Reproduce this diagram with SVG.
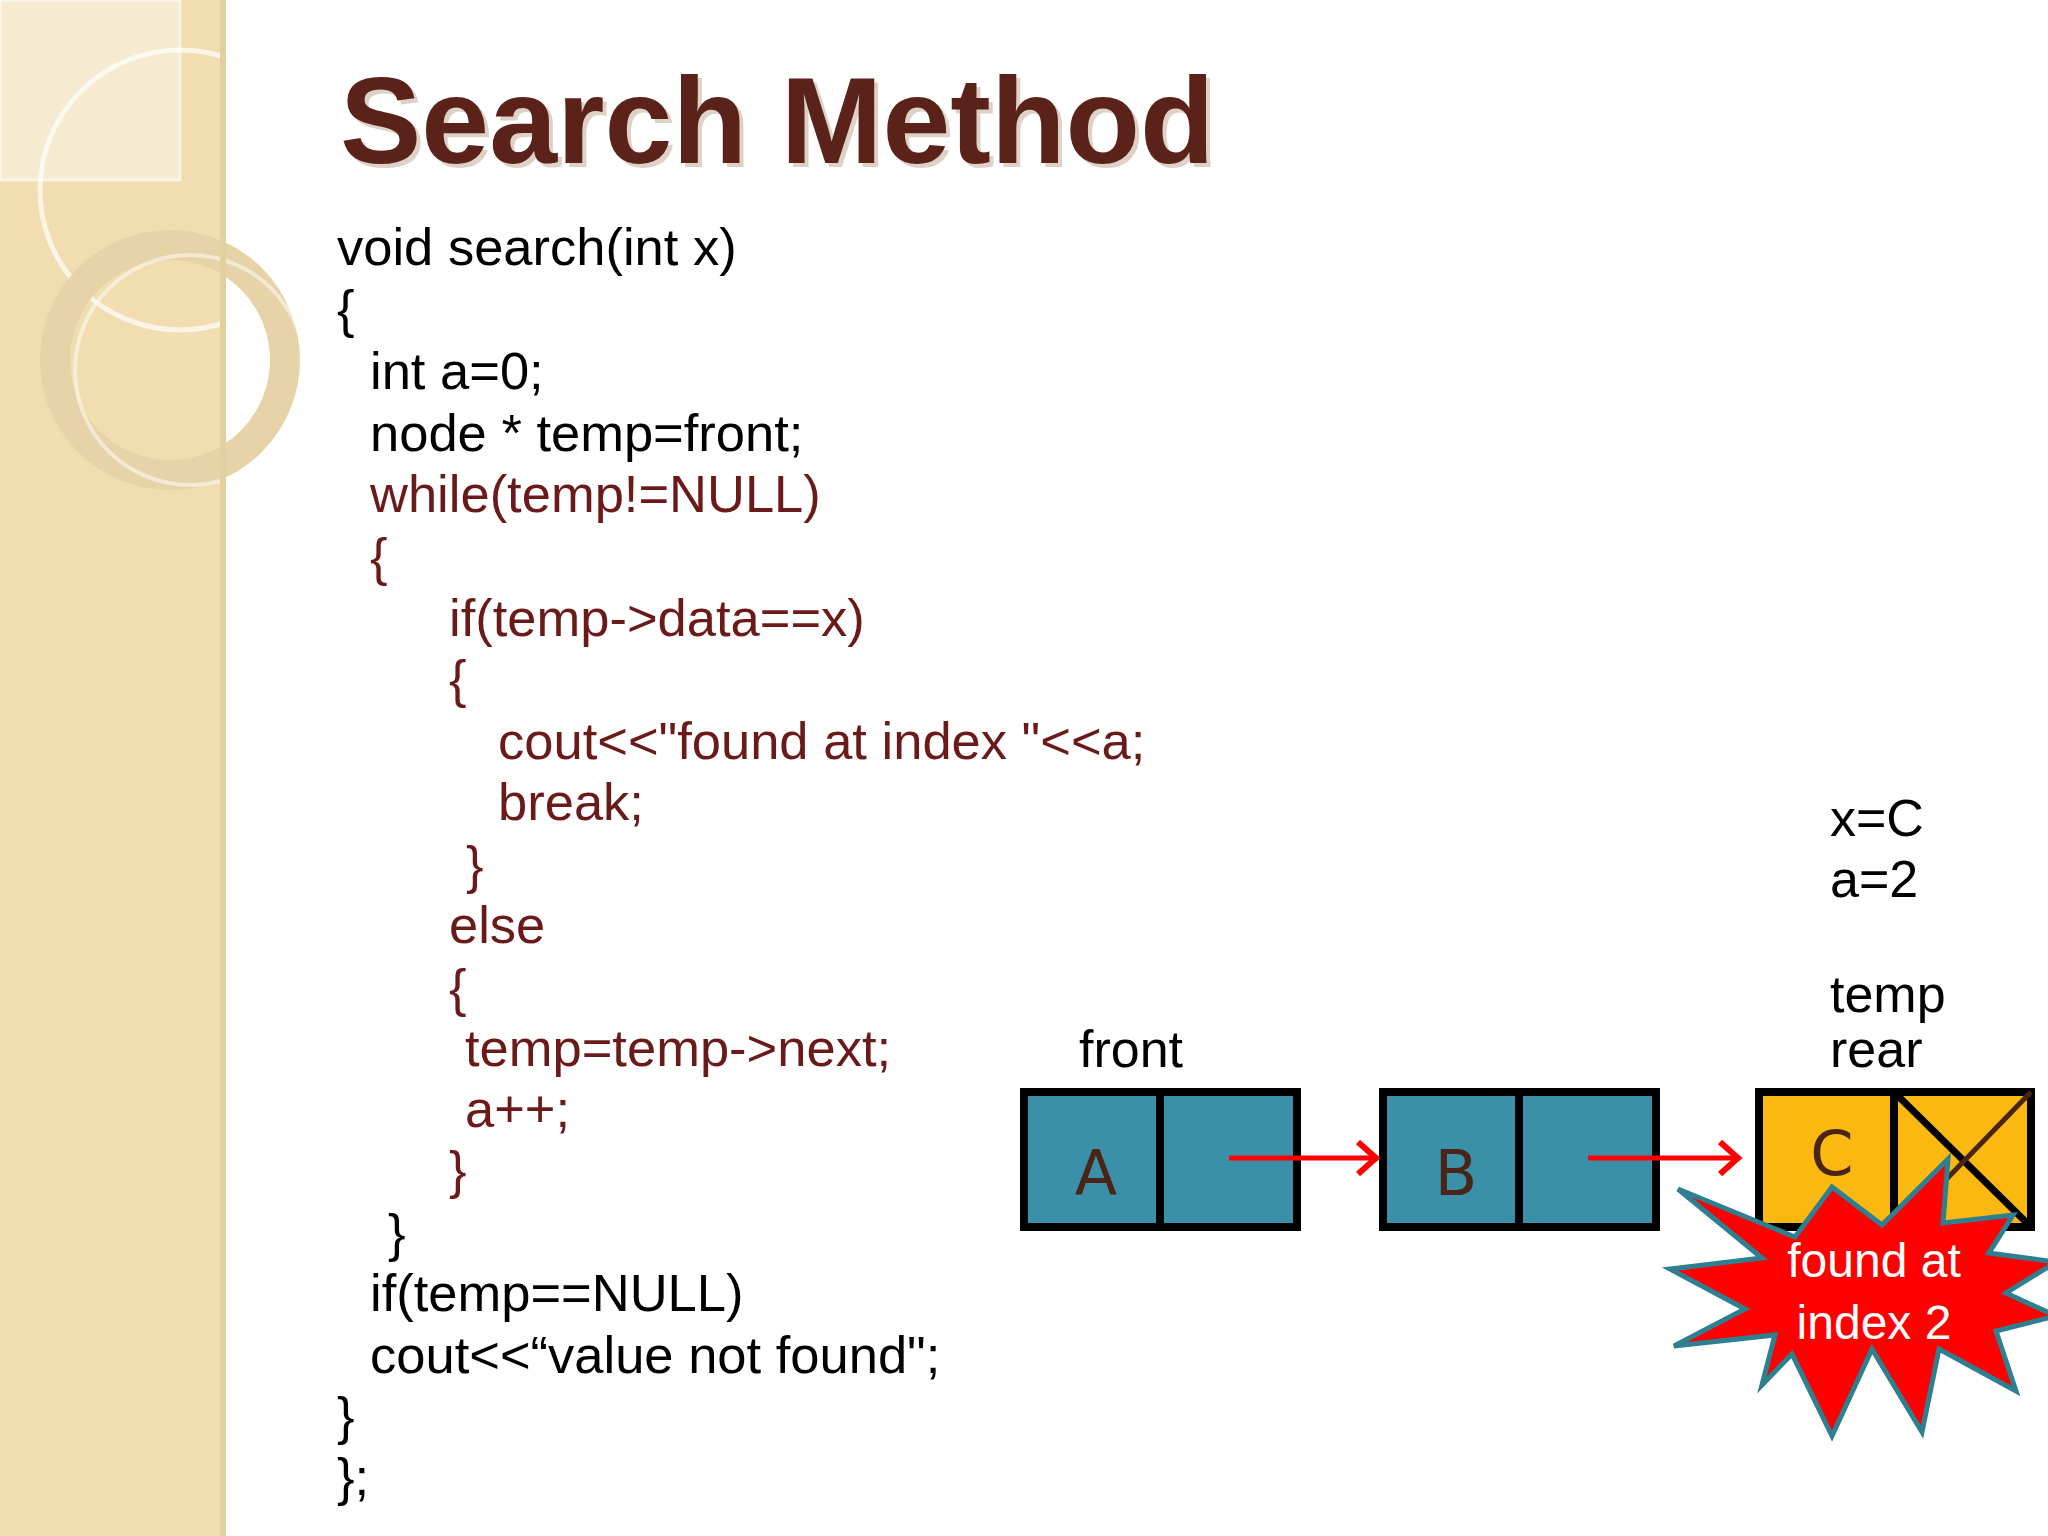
<svg xmlns="http://www.w3.org/2000/svg" width="2048" height="1536" viewBox="0 0 2048 1536">
<style>
.code{font-family:"Liberation Sans",Arial,sans-serif;font-size:52.5px}
.k{fill:#000}
.r{fill:#6b1a1a}
.lbl{font-family:"Liberation Sans",Arial,sans-serif;font-size:52px;fill:#000}
.cell{stroke:#000;stroke-width:8}
.big{font-family:"DejaVu Sans",sans-serif;font-size:62px;fill:#4a2416;text-anchor:middle}
.arr{stroke:#f00;stroke-width:5;fill:none}
</style>
<defs>
<marker id="ah" markerWidth="30" markerHeight="40" refX="26" refY="20" orient="auto" markerUnits="userSpaceOnUse" viewBox="0 0 30 40"><path d="M6,4 L24,20 L6,36" fill="none" stroke="#f00" stroke-width="6"/></marker>
</defs>
<rect width="2048" height="1536" fill="#fff"/>
<g id="sidebar">
<rect x="0" y="0" width="226" height="1536" fill="#f1ddb0"/>
<rect x="0" y="0" width="180" height="180" fill="#f6ead0" stroke="#fff" stroke-opacity="0.6" stroke-width="3"/>
<circle cx="180" cy="190" r="140" fill="none" stroke="#fff" stroke-opacity="0.7" stroke-width="5"/>
<circle cx="170" cy="360" r="115" fill="none" stroke="#e6d3a8" stroke-width="30"/>
<circle cx="190" cy="370" r="115" fill="none" stroke="#fff" stroke-opacity="0.5" stroke-width="4"/>
<rect x="220" y="0" width="6" height="1536" fill="#e4cfa0"/>
</g>
<g id="title">
<text x="344" y="167" font-family="Liberation Sans,Arial,sans-serif" font-weight="bold" font-size="122" fill="#c9b3a0" opacity="0.6">Search Method</text>
<text x="340" y="163" font-family="Liberation Sans,Arial,sans-serif" font-weight="bold" font-size="122" fill="#5a2219">Search Method</text>
</g>
<g id="code" class="code">
<text x="337" y="265" class="k">void search(int x)</text>
<text x="337" y="327" class="k">{</text>
<text x="370" y="389" class="k">int a=0;</text>
<text x="370" y="451" class="k">node * temp=front;</text>
<text x="370" y="512" class="r">while(temp!=NULL)</text>
<text x="370" y="575" class="r">{</text>
<text x="449" y="636" class="r">if(temp-&gt;data==x)</text>
<text x="449" y="697" class="r">{</text>
<text x="498" y="759" class="r">cout&lt;&lt;"found at index "&lt;&lt;a;</text>
<text x="498" y="820" class="r">break;</text>
<text x="466" y="883" class="r">}</text>
<text x="449" y="943" class="r">else</text>
<text x="449" y="1006" class="r">{</text>
<text x="465" y="1066" class="r">temp=temp-&gt;next;</text>
<text x="465" y="1127" class="r">a++;</text>
<text x="449" y="1188" class="r">}</text>
<text x="388" y="1251" class="k">}</text>
<text x="370" y="1311" class="k">if(temp==NULL)</text>
<text x="370" y="1373" class="k">cout&lt;&lt;“value not found";</text>
<text x="337" y="1434" class="k">}</text>
<text x="337" y="1495" class="k">};</text>
</g>
<g id="labels" class="lbl">
<text x="1079" y="1067">front</text>
<text x="1830" y="836">x=C</text>
<text x="1830" y="897">a=2</text>
<text x="1830" y="1012">temp</text>
<text x="1830" y="1067">rear</text>
</g>
<g id="nodeA">
<rect x="1024" y="1092" width="136" height="135" fill="#3a90a8" class="cell"/>
<rect x="1160" y="1092" width="137" height="135" fill="#3a90a8" class="cell"/>
<text x="1096" y="1195" class="big">A</text>
</g>
<g id="nodeB">
<rect x="1383" y="1092" width="136" height="135" fill="#3a90a8" class="cell"/>
<rect x="1519" y="1092" width="137" height="135" fill="#3a90a8" class="cell"/>
<text x="1456" y="1195" class="big">B</text>
</g>
<g id="nodeC">
<rect x="1759" y="1092" width="135" height="135" fill="#fbb811" class="cell"/>
<rect x="1894" y="1092" width="137" height="135" fill="#fbb811" class="cell"/>
<line x1="1894" y1="1092" x2="2031" y2="1227" stroke="#000" stroke-width="7"/>
<line x1="2031" y1="1092" x2="1900" y2="1227" stroke="#4a2416" stroke-width="5"/>
<text x="1832" y="1175" class="big">C</text>
</g>
<g id="connectors">
<line x1="1229" y1="1158" x2="1378" y2="1158" class="arr" marker-end="url(#ah)"/>
<line x1="1588" y1="1158" x2="1740" y2="1158" class="arr" marker-end="url(#ah)"/>
</g>
<g id="star">
<polygon points="1678,1189 1795,1237 1832,1187 1882,1225 1948,1159 1943,1223 2013,1215 1989,1253 2056,1262 2006,1293 2056,1316 1996,1331 2016,1391 1939,1349 1922,1432 1872,1349 1832,1436 1792,1354 1762,1385 1775,1335 1674,1346 1745,1309 1670,1269 1762,1258" fill="#f00" stroke="#2e7f8f" stroke-width="5" stroke-linejoin="miter"/>
<text x="1874" y="1277" font-family="Liberation Sans,Arial,sans-serif" font-size="48" fill="#fff" text-anchor="middle">found at</text>
<text x="1874" y="1339" font-family="Liberation Sans,Arial,sans-serif" font-size="48" fill="#fff" text-anchor="middle">index 2</text>
</g>
</svg>
